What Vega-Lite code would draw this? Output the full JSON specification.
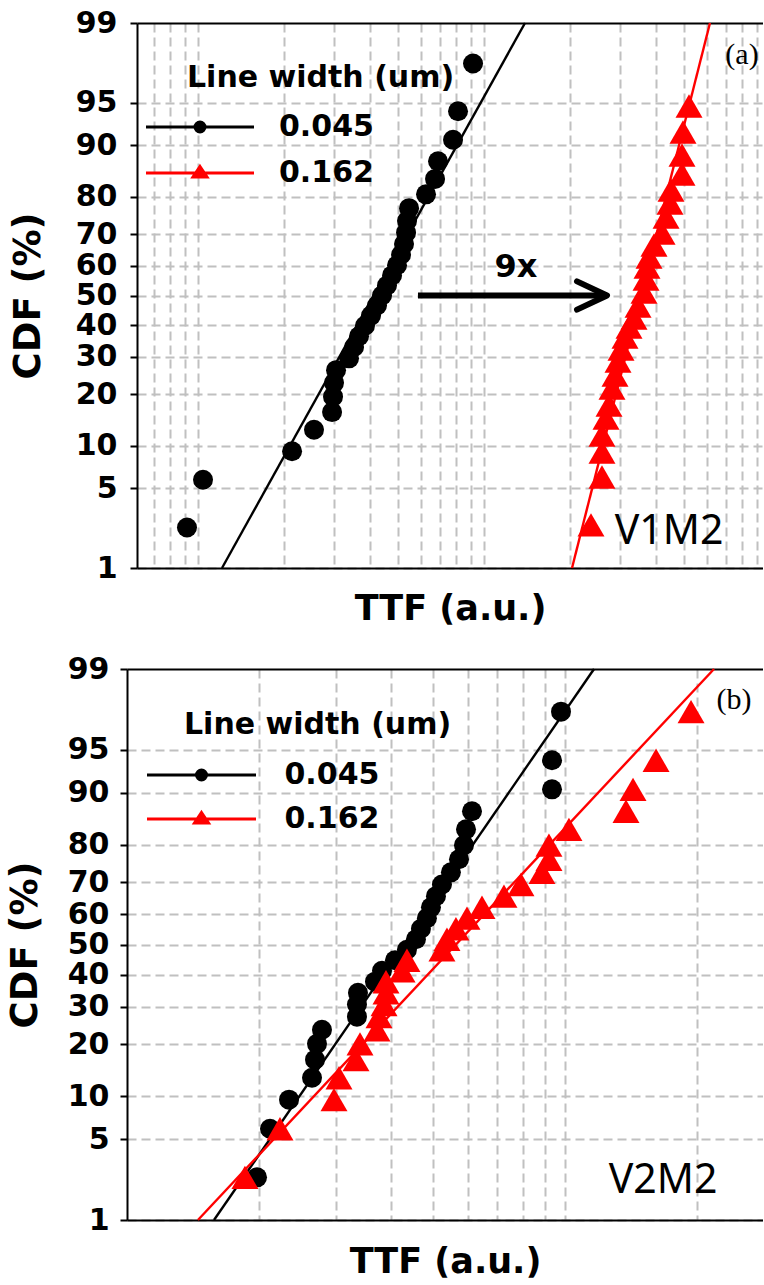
{
  "$schema": "https://vega.github.io/schema/vega-lite/v6.json",
  "background": "white",
  "padding": {"left": 6, "top": 8, "right": 0, "bottom": 0},
  "config": {
    "view": {"stroke": null},
    "axis": {"labelFont": "DejaVu Sans", "titleFont": "DejaVu Sans", "labelColor": "black", "titleColor": "black", "titleFontWeight": "bold", "labelFontWeight": "bold"}
  },
  "datasets": {
    "a_pts": [
      {"lw": "0.045", "ttf": 0.915, "cdf": 2.381},
      {"lw": "0.045", "ttf": 1.041, "cdf": 5.782},
      {"lw": "0.045", "ttf": 2.132, "cdf": 9.184},
      {"lw": "0.045", "ttf": 2.544, "cdf": 12.585},
      {"lw": "0.045", "ttf": 2.942, "cdf": 15.986},
      {"lw": "0.045", "ttf": 2.965, "cdf": 19.388},
      {"lw": "0.045", "ttf": 2.989, "cdf": 22.789},
      {"lw": "0.045", "ttf": 3.038, "cdf": 26.19},
      {"lw": "0.045", "ttf": 3.373, "cdf": 29.592},
      {"lw": "0.045", "ttf": 3.512, "cdf": 32.993},
      {"lw": "0.045", "ttf": 3.655, "cdf": 36.395},
      {"lw": "0.045", "ttf": 3.836, "cdf": 39.796},
      {"lw": "0.045", "ttf": 4.026, "cdf": 43.197},
      {"lw": "0.045", "ttf": 4.225, "cdf": 46.599},
      {"lw": "0.045", "ttf": 4.399, "cdf": 50.0},
      {"lw": "0.045", "ttf": 4.579, "cdf": 53.401},
      {"lw": "0.045", "ttf": 4.768, "cdf": 56.803},
      {"lw": "0.045", "ttf": 4.964, "cdf": 60.204},
      {"lw": "0.045", "ttf": 5.127, "cdf": 63.605},
      {"lw": "0.045", "ttf": 5.252, "cdf": 67.007},
      {"lw": "0.045", "ttf": 5.338, "cdf": 70.408},
      {"lw": "0.045", "ttf": 5.381, "cdf": 73.81},
      {"lw": "0.045", "ttf": 5.469, "cdf": 77.211},
      {"lw": "0.045", "ttf": 6.27, "cdf": 80.612},
      {"lw": "0.045", "ttf": 6.742, "cdf": 84.014},
      {"lw": "0.045", "ttf": 6.906, "cdf": 87.415},
      {"lw": "0.045", "ttf": 7.793, "cdf": 90.816},
      {"lw": "0.045", "ttf": 8.112, "cdf": 94.218},
      {"lw": "0.045", "ttf": 9.153, "cdf": 97.619},
      {"lw": "0.162", "ttf": 23.66, "cdf": 2.51},
      {"lw": "0.162", "ttf": 25.85, "cdf": 6.07},
      {"lw": "0.162", "ttf": 25.85, "cdf": 9.08},
      {"lw": "0.162", "ttf": 25.85, "cdf": 11.68},
      {"lw": "0.162", "ttf": 26.7, "cdf": 14.78},
      {"lw": "0.162", "ttf": 27.35, "cdf": 17.49},
      {"lw": "0.162", "ttf": 28.02, "cdf": 21.48},
      {"lw": "0.162", "ttf": 28.71, "cdf": 24.86},
      {"lw": "0.162", "ttf": 29.41, "cdf": 28.81},
      {"lw": "0.162", "ttf": 30.13, "cdf": 32.38},
      {"lw": "0.162", "ttf": 31.12, "cdf": 36.17},
      {"lw": "0.162", "ttf": 32.14, "cdf": 39.4},
      {"lw": "0.162", "ttf": 33.46, "cdf": 42.39},
      {"lw": "0.162", "ttf": 34.56, "cdf": 46.43},
      {"lw": "0.162", "ttf": 36.26, "cdf": 51.19},
      {"lw": "0.162", "ttf": 36.85, "cdf": 55.6},
      {"lw": "0.162", "ttf": 37.15, "cdf": 59.61},
      {"lw": "0.162", "ttf": 37.75, "cdf": 62.88},
      {"lw": "0.162", "ttf": 39.3, "cdf": 66.7},
      {"lw": "0.162", "ttf": 41.93, "cdf": 70.32},
      {"lw": "0.162", "ttf": 43.3, "cdf": 74.86},
      {"lw": "0.162", "ttf": 44.71, "cdf": 78.51},
      {"lw": "0.162", "ttf": 45.07, "cdf": 81.61},
      {"lw": "0.162", "ttf": 49.24, "cdf": 85.02},
      {"lw": "0.162", "ttf": 49.24, "cdf": 88.48},
      {"lw": "0.162", "ttf": 49.64, "cdf": 91.86},
      {"lw": "0.162", "ttf": 52.1, "cdf": 94.71}
    ],
    "a_fit": [
      {"lw": "0.045", "ttf": 1.213, "cdf": 1},
      {"lw": "0.045", "ttf": 13.91, "cdf": 99},
      {"lw": "0.162", "ttf": 20.31, "cdf": 1},
      {"lw": "0.162", "ttf": 61.68, "cdf": 99}
    ],
    "b_pts": [
      {"lw": "0.045", "ttf": 1.981, "cdf": 2.465},
      {"lw": "0.045", "ttf": 2.121, "cdf": 5.986},
      {"lw": "0.045", "ttf": 2.344, "cdf": 9.507},
      {"lw": "0.045", "ttf": 2.645, "cdf": 13.028},
      {"lw": "0.045", "ttf": 2.687, "cdf": 16.549},
      {"lw": "0.045", "ttf": 2.715, "cdf": 20.07},
      {"lw": "0.045", "ttf": 2.787, "cdf": 23.592},
      {"lw": "0.045", "ttf": 3.35, "cdf": 27.113},
      {"lw": "0.045", "ttf": 3.35, "cdf": 30.634},
      {"lw": "0.045", "ttf": 3.368, "cdf": 34.155},
      {"lw": "0.045", "ttf": 3.683, "cdf": 37.676},
      {"lw": "0.045", "ttf": 3.821, "cdf": 41.197},
      {"lw": "0.045", "ttf": 4.091, "cdf": 44.718},
      {"lw": "0.045", "ttf": 4.357, "cdf": 48.239},
      {"lw": "0.045", "ttf": 4.568, "cdf": 51.761},
      {"lw": "0.045", "ttf": 4.689, "cdf": 55.282},
      {"lw": "0.045", "ttf": 4.839, "cdf": 58.803},
      {"lw": "0.045", "ttf": 4.943, "cdf": 62.324},
      {"lw": "0.045", "ttf": 5.075, "cdf": 65.845},
      {"lw": "0.045", "ttf": 5.237, "cdf": 69.366},
      {"lw": "0.045", "ttf": 5.49, "cdf": 72.887},
      {"lw": "0.045", "ttf": 5.728, "cdf": 76.408},
      {"lw": "0.045", "ttf": 5.88, "cdf": 79.93},
      {"lw": "0.045", "ttf": 5.943, "cdf": 83.451},
      {"lw": "0.045", "ttf": 6.133, "cdf": 86.972},
      {"lw": "0.045", "ttf": 9.34, "cdf": 90.493},
      {"lw": "0.045", "ttf": 9.34, "cdf": 94.014},
      {"lw": "0.045", "ttf": 9.793, "cdf": 97.535},
      {"lw": "0.162", "ttf": 1.859, "cdf": 2.465},
      {"lw": "0.162", "ttf": 2.235, "cdf": 5.986},
      {"lw": "0.162", "ttf": 2.969, "cdf": 9.507},
      {"lw": "0.162", "ttf": 3.048, "cdf": 13.028},
      {"lw": "0.162", "ttf": 3.333, "cdf": 16.549},
      {"lw": "0.162", "ttf": 3.404, "cdf": 20.07},
      {"lw": "0.162", "ttf": 3.722, "cdf": 23.592},
      {"lw": "0.162", "ttf": 3.761, "cdf": 27.113},
      {"lw": "0.162", "ttf": 3.862, "cdf": 30.634},
      {"lw": "0.162", "ttf": 3.902, "cdf": 34.155},
      {"lw": "0.162", "ttf": 3.902, "cdf": 37.676},
      {"lw": "0.162", "ttf": 4.246, "cdf": 41.197},
      {"lw": "0.162", "ttf": 4.357, "cdf": 44.718},
      {"lw": "0.162", "ttf": 5.237, "cdf": 48.239},
      {"lw": "0.162", "ttf": 5.377, "cdf": 51.761},
      {"lw": "0.162", "ttf": 5.637, "cdf": 55.282},
      {"lw": "0.162", "ttf": 5.974, "cdf": 58.803},
      {"lw": "0.162", "ttf": 6.464, "cdf": 62.324},
      {"lw": "0.162", "ttf": 7.256, "cdf": 65.845},
      {"lw": "0.162", "ttf": 7.934, "cdf": 69.366},
      {"lw": "0.162", "ttf": 8.858, "cdf": 72.887},
      {"lw": "0.162", "ttf": 9.191, "cdf": 76.408},
      {"lw": "0.162", "ttf": 9.191, "cdf": 79.93},
      {"lw": "0.162", "ttf": 10.21, "cdf": 83.451},
      {"lw": "0.162", "ttf": 13.78, "cdf": 86.972},
      {"lw": "0.162", "ttf": 14.3, "cdf": 90.493},
      {"lw": "0.162", "ttf": 16.14, "cdf": 94.014},
      {"lw": "0.162", "ttf": 19.4, "cdf": 97.535}
    ],
    "b_fit": [
      {"lw": "0.045", "ttf": 1.58, "cdf": 1},
      {"lw": "0.045", "ttf": 11.65, "cdf": 99},
      {"lw": "0.162", "ttf": 1.452, "cdf": 1},
      {"lw": "0.162", "ttf": 21.89, "cdf": 99}
    ]
  },
  "concat": [
    {
      "width": 636,
      "height": 545,
      "encoding": {
        "x": {"field": "ttf", "type": "quantitative",
          "scale": {"type": "log", "domain": [0.6118, 94.52], "nice": false, "range": [10, 636]},
          "axis": {"title": "TTF (a.u.)", "values": [0.7, 0.8, 0.9, 1, 2, 3, 4, 5, 6, 7, 8, 9, 10, 20, 30, 40, 50, 60, 70, 80, 90],
            "labels": false, "ticks": false, "grid": true, "gridColor": "#c0c0c0", "gridDash": [9, 5], "gridWidth": 2,
            "domainColor": "black", "domainWidth": 2, "titleFontSize": 35, "titlePadding": 23}},
        "y": {"field": "z", "type": "quantitative",
          "scale": {"domain": [-2.3263479, 2.3263479], "nice": false, "zero": false},
          "axis": {"title": "CDF (%)", "offset": -10, "values": [-2.3263479, -1.6448536, -1.2815516, -0.8416212, -0.5244005, -0.2533471, 0, 0.2533471, 0.5244005, 0.8416212, 1.2815516, 1.6448536, 2.3263479],
            "labelExpr": "'' + round(cumulativeNormal(datum.value) * 100)",
            "labelOverlap": false, "labelFlush": false, "labelFontSize": 30, "labelPadding": 13,
            "tickSize": 7, "tickWidth": 2, "tickColor": "black", "domainColor": "black", "domainWidth": 2,
            "grid": true,
            "gridColor": {"condition": {"test": "datum.value > 2.3", "value": "black"}, "value": "#c0c0c0"},
            "gridDash": {"condition": {"test": "datum.value > 2.3", "value": []}, "value": [9, 5]},
            "gridWidth": 2,
            "titleFontSize": 37, "titlePadding": 28}}
      },
      "layer": [
        {
          "data": {"name": "a_fit"},
          "transform": [{"calculate": "quantileNormal(datum.cdf / 100)", "as": "z"}],
          "mark": {"type": "line", "strokeWidth": 2.4},
          "encoding": {
            "color": {"field": "lw", "type": "nominal", "scale": {"domain": ["0.045", "0.162"], "range": ["#000000", "#ff0000"]},
              "legend": {"orient": "none", "legendX": 60, "legendY": 40, "title": "Line width (um)", "padding": 0,
                "titleFont": "DejaVu Sans", "titleFontSize": 30, "titleFontWeight": "bold", "titleColor": "black", "titlePadding": 19, "titleLimit": 600,
                "labelFont": "DejaVu Sans", "labelFontSize": 30, "labelFontWeight": "bold", "labelColor": "black",
                "symbolSize": 400, "symbolStrokeWidth": 3, "symbolOffset": -2, "labelOffset": 64, "rowPadding": 16,
                "encoding": {"symbols": {
                  "shape": {"condition": {"test": "datum.value == '0.045'", "value": "M-5.4,0H5.4M0.5,0A0.5,0.5,0,1,1,-0.5,0A0.5,0.5,0,1,1,0.5,0Z"}, "value": "M-5.4,0H5.4M0,-0.65L0.7,0.4L-0.7,0.4Z"},
                  "strokeWidth": {"value": 3}, "size": {"value": 400}, "opacity": {"value": 1}}}}}
          }
        },
        {
          "data": {"name": "a_pts"},
          "transform": [{"filter": "datum.lw == '0.045'"}, {"calculate": "quantileNormal(datum.cdf / 100)", "as": "z"}],
          "mark": {"type": "point", "filled": true, "opacity": 1, "shape": "circle", "size": 400},
          "encoding": {
            "color": {"field": "lw", "type": "nominal", "scale": {"domain": ["0.045", "0.162"], "range": ["#000000", "#ff0000"]},
              "legend": {"orient": "none", "legendX": 60, "legendY": 40, "title": "Line width (um)", "padding": 0,
                "titleFont": "DejaVu Sans", "titleFontSize": 30, "titleFontWeight": "bold", "titleColor": "black", "titlePadding": 19, "titleLimit": 600,
                "labelFont": "DejaVu Sans", "labelFontSize": 30, "labelFontWeight": "bold", "labelColor": "black",
                "symbolSize": 400, "symbolStrokeWidth": 3, "symbolOffset": -2, "labelOffset": 64, "rowPadding": 16,
                "encoding": {"symbols": {
                  "shape": {"condition": {"test": "datum.value == '0.045'", "value": "M-5.4,0H5.4M0.5,0A0.5,0.5,0,1,1,-0.5,0A0.5,0.5,0,1,1,0.5,0Z"}, "value": "M-5.4,0H5.4M0,-0.65L0.7,0.4L-0.7,0.4Z"},
                  "strokeWidth": {"value": 3}, "size": {"value": 400}, "opacity": {"value": 1}}}}}
          }
        },
        {
          "data": {"name": "a_pts"},
          "transform": [{"filter": "datum.lw == '0.162'"}, {"calculate": "quantileNormal(datum.cdf / 100)", "as": "z"}],
          "mark": {"type": "point", "filled": true, "opacity": 1, "shape": "triangle-up", "size": 729},
          "encoding": {
            "color": {"field": "lw", "type": "nominal", "scale": {"domain": ["0.045", "0.162"], "range": ["#000000", "#ff0000"]},
              "legend": {"orient": "none", "legendX": 60, "legendY": 40, "title": "Line width (um)", "padding": 0,
                "titleFont": "DejaVu Sans", "titleFontSize": 30, "titleFontWeight": "bold", "titleColor": "black", "titlePadding": 19, "titleLimit": 600,
                "labelFont": "DejaVu Sans", "labelFontSize": 30, "labelFontWeight": "bold", "labelColor": "black",
                "symbolSize": 400, "symbolStrokeWidth": 3, "symbolOffset": -2, "labelOffset": 64, "rowPadding": 16,
                "encoding": {"symbols": {
                  "shape": {"condition": {"test": "datum.value == '0.045'", "value": "M-5.4,0H5.4M0.5,0A0.5,0.5,0,1,1,-0.5,0A0.5,0.5,0,1,1,0.5,0Z"}, "value": "M-5.4,0H5.4M0,-0.65L0.7,0.4L-0.7,0.4Z"},
                  "strokeWidth": {"value": 3}, "size": {"value": 400}, "opacity": {"value": 1}}}}}
          }
        },
        {
          "data": {"values": [{"ttf": 5.876, "ttf2": 26.07, "cdf": 50}]},
          "transform": [{"calculate": "quantileNormal(datum.cdf / 100)", "as": "z"}],
          "mark": {"type": "rule", "strokeWidth": 6, "color": "black", "strokeCap": "butt"},
          "encoding": {"x2": {"field": "ttf2"}}
        },
        {
          "data": {"values": [{"ttf": 26.92, "cdf": 50}]},
          "transform": [{"calculate": "quantileNormal(datum.cdf / 100)", "as": "z"}],
          "mark": {"type": "point", "shape": "M-1,-0.47L0,0L-1,0.47", "size": 3600, "filled": false, "stroke": "black", "strokeWidth": 6, "strokeJoin": "round", "strokeCap": "round", "opacity": 1}
        },
        {
          "data": {"values": [{"label": "9x", "ttf": 12.94, "cdf": 56.27}]},
          "transform": [{"calculate": "quantileNormal(datum.cdf / 100)", "as": "z"}],
          "mark": {"type": "text", "font": "DejaVu Sans", "fontSize": 32, "fontWeight": "bold", "align": "center", "baseline": "alphabetic", "color": "black"},
          "encoding": {"text": {"field": "label"}}
        },
        {
          "data": {"values": [{"label": "(a)", "ttf": 79.82, "cdf": 98.0}]},
          "transform": [{"calculate": "quantileNormal(datum.cdf / 100)", "as": "z"}],
          "mark": {"type": "text", "font": "Liberation Serif", "fontSize": 30, "align": "center", "baseline": "middle", "color": "black"},
          "encoding": {"text": {"field": "label"}}
        },
        {
          "data": {"values": [{"label": "V1M2", "ttf": 44.37, "cdf": 2.17}]},
          "transform": [{"calculate": "quantileNormal(datum.cdf / 100)", "as": "z"}],
          "mark": {"type": "text", "font": "Noto Sans", "fontSize": 41, "align": "center", "baseline": "middle", "color": "black"},
          "encoding": {"text": {"field": "label"}}
        }
      ]
    },
    {
      "width": 636,
      "height": 551,
      "encoding": {
        "x": {"field": "ttf", "type": "quantitative",
          "scale": {"type": "log", "domain": [1, 28.32], "nice": false},
          "axis": {"title": "TTF (a.u.)", "values": [2, 3, 4, 5, 6, 7, 8, 9, 10, 20],
            "labels": false, "ticks": false, "grid": true, "gridColor": "#c0c0c0", "gridDash": [9, 5], "gridWidth": 2,
            "domainColor": "black", "domainWidth": 2, "titleFontSize": 35, "titlePadding": 24}},
        "y": {"field": "z", "type": "quantitative",
          "scale": {"domain": [-2.3263479, 2.3263479], "nice": false, "zero": false},
          "axis": {"title": "CDF (%)", "values": [-2.3263479, -1.6448536, -1.2815516, -0.8416212, -0.5244005, -0.2533471, 0, 0.2533471, 0.5244005, 0.8416212, 1.2815516, 1.6448536, 2.3263479],
            "labelExpr": "'' + round(cumulativeNormal(datum.value) * 100)",
            "labelOverlap": false, "labelFlush": false, "labelFontSize": 30, "labelPadding": 11,
            "tickSize": 7, "tickWidth": 2, "tickColor": "black", "domainColor": "black", "domainWidth": 2,
            "grid": true,
            "gridColor": {"condition": {"test": "datum.value > 2.3", "value": "black"}, "value": "#c0c0c0"},
            "gridDash": {"condition": {"test": "datum.value > 2.3", "value": []}, "value": [9, 5]},
            "gridWidth": 2,
            "titleFontSize": 37, "titlePadding": 23}}
      },
      "layer": [
        {
          "data": {"name": "b_fit"},
          "transform": [{"calculate": "quantileNormal(datum.cdf / 100)", "as": "z"}],
          "mark": {"type": "line", "strokeWidth": 2.4},
          "encoding": {
            "color": {"field": "lw", "type": "nominal", "scale": {"domain": ["0.045", "0.162"], "range": ["#000000", "#ff0000"]},
              "legend": {"orient": "none", "legendX": 57, "legendY": 41, "title": "Line width (um)", "padding": 0,
                "titleFont": "DejaVu Sans", "titleFontSize": 30, "titleFontWeight": "bold", "titleColor": "black", "titlePadding": 20, "titleLimit": 600,
                "labelFont": "DejaVu Sans", "labelFontSize": 30, "labelFontWeight": "bold", "labelColor": "black",
                "symbolSize": 400, "symbolStrokeWidth": 3, "symbolOffset": 2.5, "labelOffset": 68, "rowPadding": 14,
                "encoding": {"symbols": {
                  "shape": {"condition": {"test": "datum.value == '0.045'", "value": "M-5.45,0H5.45M0.5,0A0.5,0.5,0,1,1,-0.5,0A0.5,0.5,0,1,1,0.5,0Z"}, "value": "M-5.45,0H5.45M0,-0.65L0.7,0.4L-0.7,0.4Z"},
                  "strokeWidth": {"value": 3}, "size": {"value": 400}, "opacity": {"value": 1}}}}}
          }
        },
        {
          "data": {"name": "b_pts"},
          "transform": [{"filter": "datum.lw == '0.045'"}, {"calculate": "quantileNormal(datum.cdf / 100)", "as": "z"}],
          "mark": {"type": "point", "filled": true, "opacity": 1, "shape": "circle", "size": 400},
          "encoding": {
            "color": {"field": "lw", "type": "nominal", "scale": {"domain": ["0.045", "0.162"], "range": ["#000000", "#ff0000"]},
              "legend": {"orient": "none", "legendX": 57, "legendY": 41, "title": "Line width (um)", "padding": 0,
                "titleFont": "DejaVu Sans", "titleFontSize": 30, "titleFontWeight": "bold", "titleColor": "black", "titlePadding": 20, "titleLimit": 600,
                "labelFont": "DejaVu Sans", "labelFontSize": 30, "labelFontWeight": "bold", "labelColor": "black",
                "symbolSize": 400, "symbolStrokeWidth": 3, "symbolOffset": 2.5, "labelOffset": 68, "rowPadding": 14,
                "encoding": {"symbols": {
                  "shape": {"condition": {"test": "datum.value == '0.045'", "value": "M-5.45,0H5.45M0.5,0A0.5,0.5,0,1,1,-0.5,0A0.5,0.5,0,1,1,0.5,0Z"}, "value": "M-5.45,0H5.45M0,-0.65L0.7,0.4L-0.7,0.4Z"},
                  "strokeWidth": {"value": 3}, "size": {"value": 400}, "opacity": {"value": 1}}}}}
          }
        },
        {
          "data": {"name": "b_pts"},
          "transform": [{"filter": "datum.lw == '0.162'"}, {"calculate": "quantileNormal(datum.cdf / 100)", "as": "z"}],
          "mark": {"type": "point", "filled": true, "opacity": 1, "shape": "triangle-up", "size": 729},
          "encoding": {
            "color": {"field": "lw", "type": "nominal", "scale": {"domain": ["0.045", "0.162"], "range": ["#000000", "#ff0000"]},
              "legend": {"orient": "none", "legendX": 57, "legendY": 41, "title": "Line width (um)", "padding": 0,
                "titleFont": "DejaVu Sans", "titleFontSize": 30, "titleFontWeight": "bold", "titleColor": "black", "titlePadding": 20, "titleLimit": 600,
                "labelFont": "DejaVu Sans", "labelFontSize": 30, "labelFontWeight": "bold", "labelColor": "black",
                "symbolSize": 400, "symbolStrokeWidth": 3, "symbolOffset": 2.5, "labelOffset": 68, "rowPadding": 14,
                "encoding": {"symbols": {
                  "shape": {"condition": {"test": "datum.value == '0.045'", "value": "M-5.45,0H5.45M0.5,0A0.5,0.5,0,1,1,-0.5,0A0.5,0.5,0,1,1,0.5,0Z"}, "value": "M-5.45,0H5.45M0,-0.65L0.7,0.4L-0.7,0.4Z"},
                  "strokeWidth": {"value": 3}, "size": {"value": 400}, "opacity": {"value": 1}}}}}
          }
        },
        {
          "data": {"values": [{"label": "(b)", "ttf": 24.31, "cdf": 98.05}]},
          "transform": [{"calculate": "quantileNormal(datum.cdf / 100)", "as": "z"}],
          "mark": {"type": "text", "font": "Liberation Serif", "fontSize": 30, "align": "center", "baseline": "middle", "color": "black"},
          "encoding": {"text": {"field": "label"}}
        },
        {
          "data": {"values": [{"label": "V2M2", "ttf": 16.74, "cdf": 2.29}]},
          "transform": [{"calculate": "quantileNormal(datum.cdf / 100)", "as": "z"}],
          "mark": {"type": "text", "font": "Noto Sans", "fontSize": 41, "align": "center", "baseline": "middle", "color": "black"},
          "encoding": {"text": {"field": "label"}}
        }
      ]
    }
  ],
  "columns": 1,
  "align": "none",
  "spacing": 28,
  "resolve": {"scale": {"color": "independent"}, "legend": {"color": "independent"}}
}
